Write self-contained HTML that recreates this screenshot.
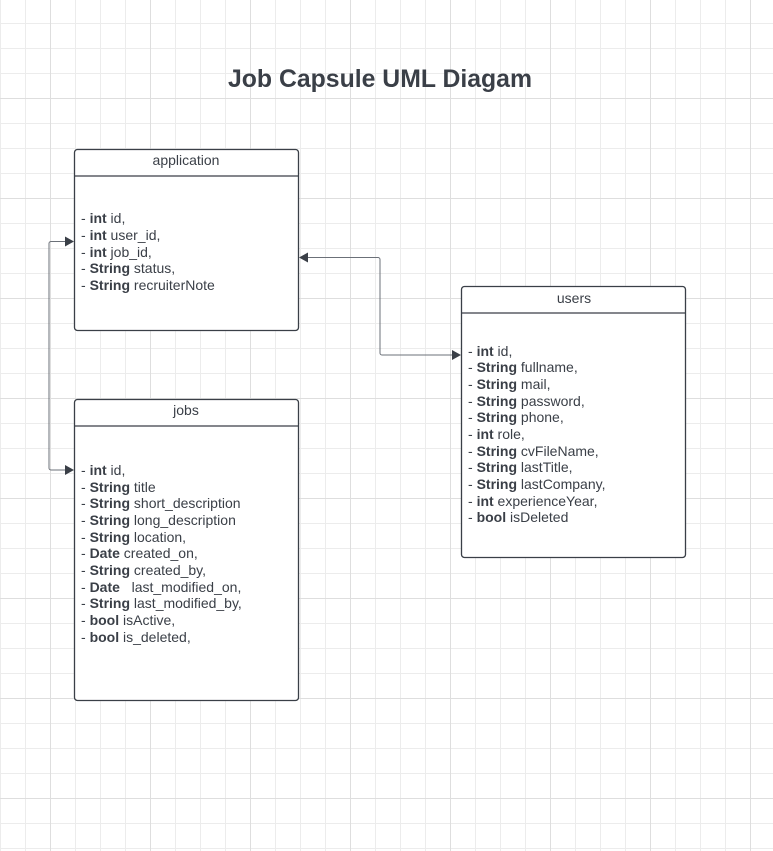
<!DOCTYPE html>
<html><head><meta charset="utf-8"><style>
html,body{margin:0;padding:0;background:#fff}
svg{display:block}
text{font-family:"Liberation Sans",Arial,sans-serif;fill:#3a3f47}
.t{font-size:14px}
.b{font-weight:bold}
</style></head><body>
<svg width="773" height="851" viewBox="0 0 773 851" xmlns="http://www.w3.org/2000/svg">
<defs>
<pattern id="g" x="0" y="-2" width="25" height="25" patternUnits="userSpaceOnUse">
<path d="M0 0.5H25M0.5 0V25" stroke="#ececec" stroke-width="1" fill="none"/>
</pattern>
<pattern id="G" x="0" y="-2" width="100" height="100" patternUnits="userSpaceOnUse">
<path d="M0 0.5H100M50.5 0V100" stroke="#dedede" stroke-width="1" fill="none"/>
</pattern>
</defs>
<rect width="773" height="851" fill="#fff"/>
<rect width="773" height="851" fill="url(#g)"/>
<rect width="773" height="851" fill="url(#G)"/>
<text x="380" y="87" text-anchor="middle" font-size="24.8" font-weight="bold">Job Capsule UML Diagam</text>

<g fill="#fff" stroke="#3a3f47" stroke-width="1.3">
<rect x="74.5" y="149.5" width="224" height="181" rx="3"/>
<rect x="74.5" y="399.5" width="224" height="301" rx="3"/>
<rect x="461.5" y="286.5" width="224" height="271" rx="3"/>
<path d="M74.5 176H298.5M74.5 426H298.5M461.5 313H685.5"/>
</g>
<g fill="none" stroke="#6b7078" stroke-width="1">
<path d="M66 241.5H51a2 2 0 0 0-2 2V468a2 2 0 0 0 2 2H66"/>
<path d="M307 257.5H378a2 2 0 0 1 2 2V353a2 2 0 0 0 2 2H453"/>
</g>
<g fill="#3a3f47">
<path d="M74 241.5l-9-5v10z"/>
<path d="M74 470l-9-5v10z"/>
<path d="M299 257.5l9-5v10z"/>
<path d="M461 355l-9-5v10z"/>
</g>

<text class="t" x="186" y="165" text-anchor="middle">application</text>
<g class="t">
<text x="81" y="223" font-size="14">- <tspan class="b">int</tspan> id,</text>
<text x="81" y="240" font-size="14">- <tspan class="b">int</tspan> user_id,</text>
<text x="81" y="257" font-size="14">- <tspan class="b">int</tspan> job_id,</text>
<text x="81" y="273" font-size="14">- <tspan class="b">String</tspan> status,</text>
<text x="81" y="290" font-size="14">- <tspan class="b">String</tspan> recruiterNote</text>
</g>

<text x="186" y="415" text-anchor="middle" font-size="14">jobs</text>
<g font-size="14">
<text x="81" y="475">- <tspan class="b">int</tspan> id,</text>
<text x="81" y="492">- <tspan class="b">String</tspan> title</text>
<text x="81" y="508">- <tspan class="b">String</tspan> short_description</text>
<text x="81" y="525">- <tspan class="b">String</tspan> long_description</text>
<text x="81" y="542">- <tspan class="b">String</tspan> location,</text>
<text x="81" y="558">- <tspan class="b">Date</tspan> created_on,</text>
<text x="81" y="575">- <tspan class="b">String</tspan> created_by,</text>
<text x="81" y="592">- <tspan class="b">Date</tspan>&#160;&#160; last_modified_on,</text>
<text x="81" y="608">- <tspan class="b">String</tspan> last_modified_by,</text>
<text x="81" y="625">- <tspan class="b">bool</tspan> isActive,</text>
<text x="81" y="642">- <tspan class="b">bool</tspan> is_deleted,</text>
</g>

<text x="574" y="303" text-anchor="middle" font-size="14">users</text>
<g font-size="14">
<text x="468" y="356">- <tspan class="b">int</tspan> id,</text>
<text x="468" y="372">- <tspan class="b">String</tspan> fullname,</text>
<text x="468" y="389">- <tspan class="b">String</tspan> mail,</text>
<text x="468" y="406">- <tspan class="b">String</tspan> password,</text>
<text x="468" y="422">- <tspan class="b">String</tspan> phone,</text>
<text x="468" y="439">- <tspan class="b">int</tspan> role,</text>
<text x="468" y="456">- <tspan class="b">String</tspan> cvFileName,</text>
<text x="468" y="472">- <tspan class="b">String</tspan> lastTitle,</text>
<text x="468" y="489">- <tspan class="b">String</tspan> lastCompany,</text>
<text x="468" y="506">- <tspan class="b">int</tspan> experienceYear,</text>
<text x="468" y="522">- <tspan class="b">bool</tspan> isDeleted</text>
</g>
</svg>
</body></html>
